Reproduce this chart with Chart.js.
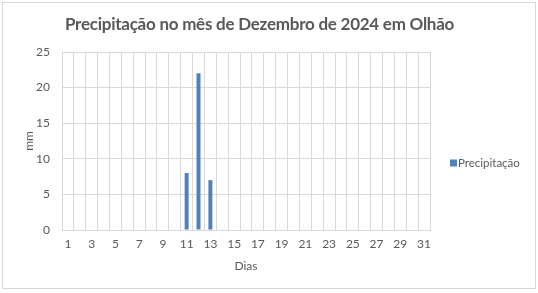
<!DOCTYPE html>
<html><head><meta charset="utf-8">
<script src="https://cdn.jsdelivr.net/npm/chart.js@4/dist/chart.umd.min.js"></script>
<style>html,body{margin:0;padding:0;background:#fff}#w{width:538px;height:293px;position:relative}</style>
</head><body><div id="w"><canvas id="c" width="538" height="293"></canvas></div>
<script>
const titleText = "Precipitação no mês de Dezembro de 2024 em Olhão";
const seriesName = "Precipitação";
const days = ["1","2","3","4","5","6","7","8","9","10","11","12","13","14","15","16","17","18","19","20","21","22","23","24","25","26","27","28","29","30","31"];
const precipitation = [0,0,0,0,0,0,0,0,0,0,8,22,7,0,0,0,0,0,0,0,0,0,0,0,0,0,0,0,0,0,0];
const yTicks = [0,5,10,15,20,25];
const xTitle = "Dias";
const yTitle = "mm";

const FONT = "Lato, 'Liberation Sans', sans-serif";
const GREY = "#595959";
const GRID = "#d9d9d9";
const BLUE = "#4F81BD";

const decorPlugin = {
  id: 'decor',
  beforeDraw(chart) {
    const ctx = chart.ctx;
    ctx.save();
    ctx.fillStyle = '#fff';
    ctx.fillRect(0, 0, chart.width, chart.height);
    ctx.strokeStyle = GRID;
    ctx.lineWidth = 1;
    ctx.strokeRect(2.5, 2.5, 533, 286);
    ctx.restore();
  },
  afterDraw(chart) {
    const ctx = chart.ctx;
    const ds = chart.data.datasets[0];
    ctx.save();
    // title
    ctx.fillStyle = GREY;
    ctx.font = "bold 17px " + FONT;
    if ('letterSpacing' in ctx) ctx.letterSpacing = '-0.25px';
    ctx.textAlign = 'center';
    ctx.textBaseline = 'alphabetic';
    ctx.fillText(titleText, 259.5, 30);
    if ('letterSpacing' in ctx) ctx.letterSpacing = '0px';
    // legend
    const x = chart.chartArea.right + 20, y = 163;
    ctx.fillStyle = ds.backgroundColor;
    ctx.fillRect(x, y - 3.5, 7, 7);
    ctx.fillStyle = GREY;
    ctx.font = "11.5px " + FONT;
    ctx.textAlign = 'left';
    ctx.textBaseline = 'middle';
    ctx.fillText(ds.label, x + 8, y);
    ctx.restore();
  }
};

new Chart(document.getElementById('c'), {
  type: 'bar',
  data: {
    labels: days,
    datasets: [{
      label: seriesName,
      data: precipitation,
      backgroundColor: BLUE,
      borderWidth: 0,
      inflateAmount: 0,
      barThickness: 4
    }]
  },
  options: {
    responsive: false,
    animation: false,
    devicePixelRatio: 1,
    layout: { padding: { left: 22, right: 108, top: 52, bottom: 14 } },
    plugins: {
      title: { display: false },
      legend: { display: false },
      tooltip: { enabled: false }
    },
    scales: {
      x: {
        afterFit: function(s) { s.height = 293 - 230 - 14; },
        grid: { color: GRID, offset: true, drawTicks: false },
        border: { color: GRID },
        ticks: {
          color: GREY,
          font: { family: FONT, size: 12 },
          autoSkip: false,
          maxRotation: 0,
          padding: 7,
          callback: function(v, i) { return i % 2 === 0 ? days[i] : ''; }
        },
        title: { display: true, text: xTitle, color: GREY, font: { family: FONT, size: 12 }, padding: { top: 4, bottom: 6 } }
      },
      y: {
        min: 0, max: 25,
        afterFit: function(s) { s.width = 62 - 22; },
        afterBuildTicks: function(s) { s.ticks = yTicks.map(v => ({ value: v })); },
        grid: { color: GRID, drawTicks: false },
        border: { color: GRID },
        ticks: { color: GREY, font: { family: FONT, size: 12 }, padding: 12 },
        title: { display: true, text: yTitle, color: GREY, font: { family: FONT, size: 12 }, padding: { top: 0, bottom: 0 } }
      }
    }
  },
  plugins: [decorPlugin]
});
</script></body></html>
